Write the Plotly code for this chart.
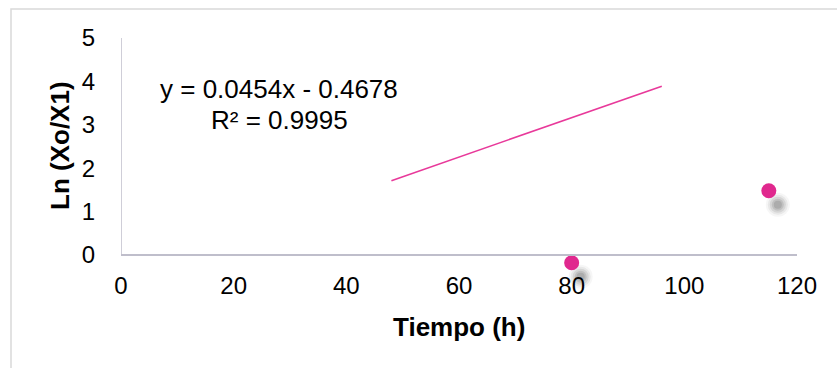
import plotly.graph_objects as go

# Data
tiempo = [80, 115]
ln_ratio = [-0.18, 1.48]
slope = 0.0454
intercept = -0.4678
r2 = 0.9995
trend_x = [48, 96]
trend_y = [slope * x + intercept for x in trend_x]
x_ticks = [0, 20, 40, 60, 80, 100, 120]
y_ticks = [0, 1, 2, 3, 4, 5]

W, H = 837, 368
# pixel geometry
X0_PX, X1_PX = 121, 797      # x = 0 .. 120
Y0_PX, Y5_PX = 255, 38       # y = 0 .. 5
xr = [0, 120]
ppx = (X1_PX - X0_PX) / (xr[1] - xr[0])
ppy = (Y0_PX - Y5_PX) / (y_ticks[-1] - y_ticks[0])
ymin = -0.6
yr = [ymin, 5]
bottom_px = Y0_PX + (0 - ymin) * ppy
L, R, T = X0_PX, W - X1_PX, Y5_PX
B = H - bottom_px
pw = X1_PX - X0_PX
ph = bottom_px - T

FONT = "Liberation Sans, Arial, sans-serif"
PINK = "#e0288e"
LINE = "#e8399a"
AXIS = "#bfbecb"

fig = go.Figure()

# soft shadows (offset in pixels converted to data units)
sdx, sdy = 9 / ppx, -14 / ppy
for size, op in [(24, 0.06), (20, 0.10), (16, 0.15), (12, 0.2), (8, 0.25)]:
    fig.add_trace(go.Scatter(
        x=[v + sdx for v in tiempo], y=[v + sdy for v in ln_ratio],
        mode="markers", cliponaxis=False, hoverinfo="skip",
        marker=dict(size=size, color=f"rgba(110,110,110,{op})", line=dict(width=0)),
        showlegend=False))

fig.add_trace(go.Scatter(x=trend_x, y=trend_y, mode="lines",
                         line=dict(color=LINE, width=1.6), showlegend=False))
fig.add_trace(go.Scatter(x=tiempo, y=ln_ratio, mode="markers", cliponaxis=False,
                         marker=dict(size=15, color=PINK, line=dict(width=0)),
                         showlegend=False))

fig.update_layout(
    width=W, height=H, margin=dict(l=L, r=R, t=T, b=B, pad=0),
    paper_bgcolor="white", plot_bgcolor="white",
    font=dict(family=FONT, size=24, color="#000"),
    xaxis=dict(range=xr, tickvals=x_ticks, showgrid=False, zeroline=False,
               anchor="free", position=(0 - ymin) / (yr[1] - yr[0]),
               showline=True, linecolor=AXIS, linewidth=1.5,
               ticks="outside", ticklen=9, tickcolor="rgba(0,0,0,0)",
               tickfont=dict(size=24)),
    yaxis=dict(range=yr, tickvals=y_ticks, showgrid=False, zeroline=False,
               showline=False,
               ticks="outside", ticklen=20, tickcolor="rgba(0,0,0,0)",
               tickfont=dict(size=24)),
)

# y axis line from 0 to 5
fig.add_shape(type="line", xref="x", yref="y", x0=xr[0], x1=xr[0],
              y0=y_ticks[0], y1=y_ticks[-1], line=dict(color=AXIS, width=1.5))


def px_to_paper_x(px):
    return (px - L) / pw


def px_to_paper_y(py):
    return (bottom_px - py) / ph


fig.add_annotation(text="<b>Tiempo (h)</b>", xref="paper", yref="paper",
                   x=px_to_paper_x(459), y=px_to_paper_y(327), showarrow=False,
                   font=dict(size=26), xanchor="center", yanchor="middle")
fig.add_annotation(text="<b>Ln (Xo/X1)</b>", xref="paper", yref="paper",
                   x=px_to_paper_x(60), y=px_to_paper_y(146), showarrow=False,
                   textangle=-90, font=dict(size=26), xanchor="center", yanchor="middle")
fig.add_annotation(text=f"y = {slope}x - {abs(intercept)}", xref="paper", yref="paper",
                   x=px_to_paper_x(279), y=px_to_paper_y(89), showarrow=False,
                   font=dict(size=26), xanchor="center", yanchor="middle")
fig.add_annotation(text=f"R² = {r2}", xref="paper", yref="paper",
                   x=px_to_paper_x(279), y=px_to_paper_y(120), showarrow=False,
                   font=dict(size=26), xanchor="center", yanchor="middle")

fig.add_shape(type="rect", xref="paper", yref="paper",
              x0=px_to_paper_x(11), x1=px_to_paper_x(W + 20),
              y0=px_to_paper_y(H + 20), y1=px_to_paper_y(9),
              line=dict(color="#d9d9d9", width=1.5), fillcolor="rgba(0,0,0,0)",
              layer="below")

fig.write_html("out.html")
